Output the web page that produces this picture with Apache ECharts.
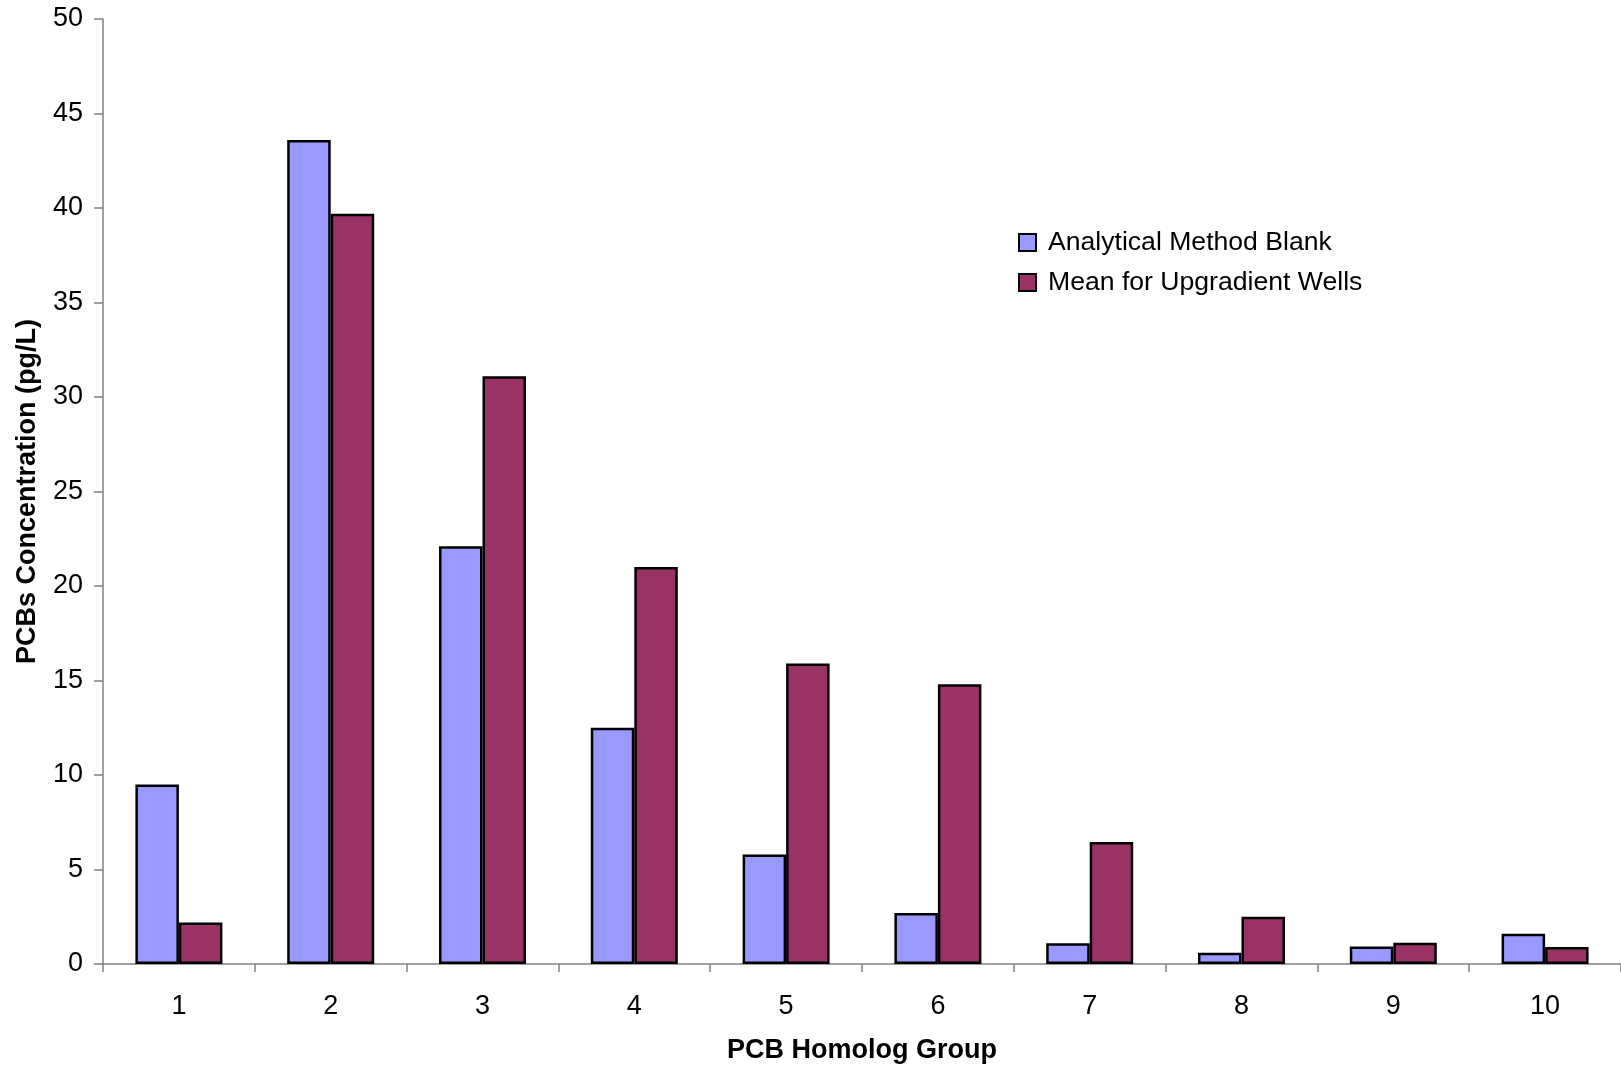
<!DOCTYPE html>
<html>
<head>
<meta charset="utf-8">
<script src="https://cdn.jsdelivr.net/npm/echarts@6/dist/echarts.min.js"></script>
<style>
html,body{margin:0;padding:0;background:#fff;}
#chart{width:1621px;height:1069px;}
</style>
</head>
<body>
<div id="chart"></div>
<script>
const categories = ['1','2','3','4','5','6','7','8','9','10'];
const blankValues = [9.5, 43.6, 22.1, 12.5, 5.8, 2.7, 1.1, 0.6, 0.92, 1.6];
const wellValues = [2.2, 39.7, 31.1, 21.0, 15.9, 14.8, 6.45, 2.5, 1.13, 0.9];
const seriesNames = ['Analytical Method Blank', 'Mean for Upgradient Wells'];
const xTitle = 'PCB Homolog Group';
const yTitle = 'PCBs Concentration (pg/L)';

const font = '"Liberation Sans", Arial, sans-serif';
const chart = echarts.init(document.getElementById('chart'), null, {renderer: 'canvas'});
chart.setOption({
  animation: false,
  backgroundColor: '#ffffff',
  grid: {left: 103, top: 19, width: 1520, height: 947, containLabel: false},
  legend: {
    orient: 'vertical',
    left: 1013,
    top: 224,
    itemWidth: 17,
    itemHeight: 17,
    itemGap: 13,
    icon: 'rect',
    textStyle: {fontFamily: font, fontSize: 26.6, color: '#000', lineHeight: 27, padding: [0,0,0,7]},
    data: seriesNames
  },
  xAxis: {
    type: 'category',
    data: categories,
    name: xTitle,
    nameLocation: 'middle',
    nameGap: 73,
    nameTextStyle: {fontFamily: font, fontSize: 27, fontWeight: 'bold', color: '#000'},
    axisLine: {lineStyle: {color: '#808080', width: 1.5}},
    axisTick: {show: true, length: 8, lineStyle: {color: '#808080', width: 1.5}},
    axisLabel: {fontFamily: font, fontSize: 27, color: '#000', margin: 29},
    splitLine: {show: false}
  },
  yAxis: {
    type: 'value',
    min: 0,
    max: 50,
    interval: 5,
    name: yTitle,
    nameLocation: 'middle',
    nameGap: 62,
    nameRotate: 90,
    nameTextStyle: {fontFamily: font, fontSize: 27, fontWeight: 'bold', color: '#000'},
    axisLine: {show: true, lineStyle: {color: '#808080', width: 1.5}},
    axisTick: {show: true, length: 9, lineStyle: {color: '#808080', width: 1.5}},
    axisLabel: {fontFamily: font, fontSize: 27, color: '#000', margin: 20},
    splitLine: {show: false}
  },
  series: [
    {
      name: seriesNames[0],
      type: 'bar',
      data: blankValues,
      barWidth: 43.5,
      barGap: '0%',
      itemStyle: {color: '#9999FF', borderColor: '#000', borderWidth: 2.5}
    },
    {
      name: seriesNames[1],
      type: 'bar',
      data: wellValues,
      barWidth: 43.5,
      barGap: '0%',
      itemStyle: {color: '#993366', borderColor: '#000', borderWidth: 2.5}
    }
  ]
});
</script>
</body>
</html>
